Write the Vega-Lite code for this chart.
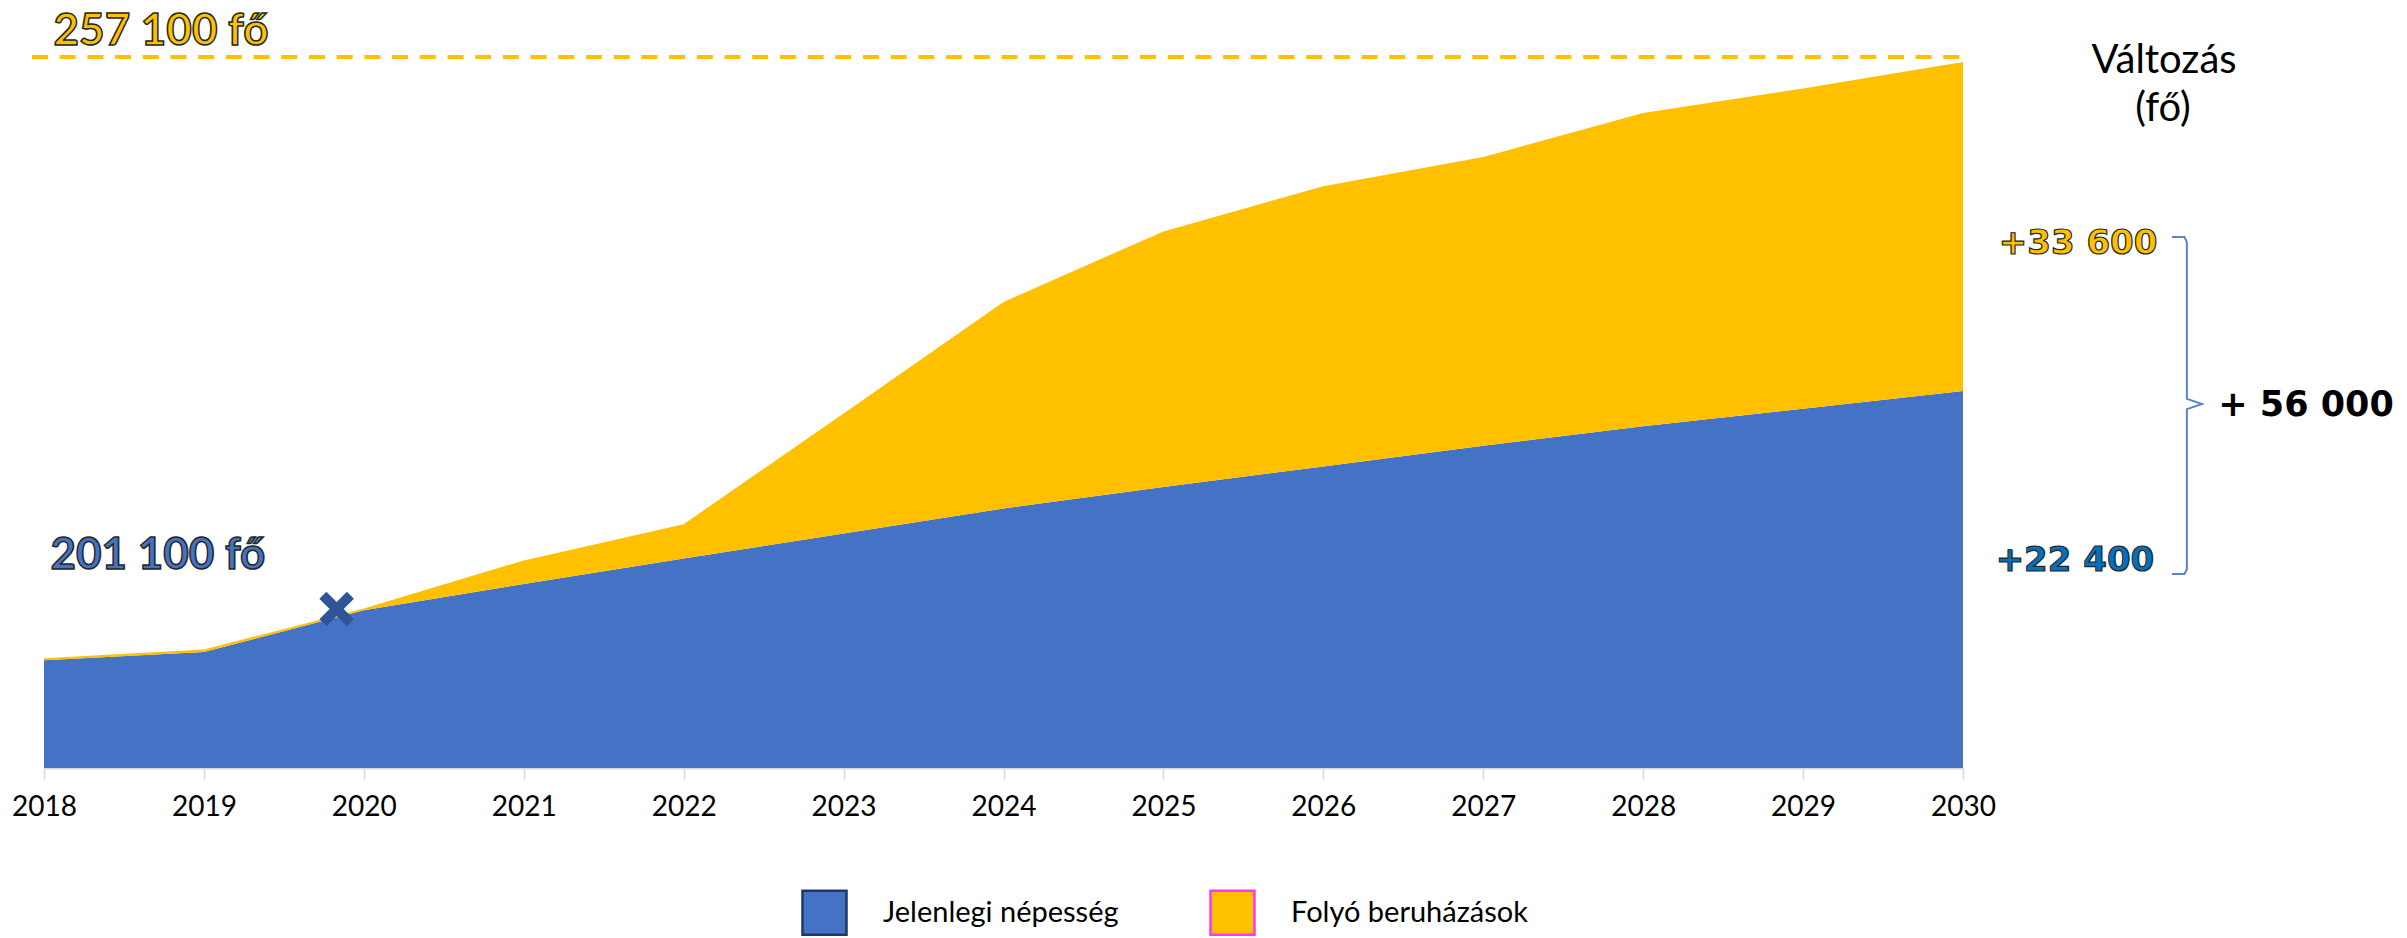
{
  "$schema": "https://vega.github.io/schema/vega-lite/v6.json",
  "width": 1919,
  "height": 754,
  "autosize": {"type": "none"},
  "padding": {"left": 44, "top": 14, "right": 444, "bottom": 170},
  "background": "white",
  "config": {
    "view": {"stroke": null},
    "font": "Lato",
    "axisX": {
      "grid": false, "title": null,
      "domainColor": "#D9D9D9", "domainWidth": 2,
      "tickColor": "#D9D9D9", "tickSize": 11, "tickWidth": 1.5,
      "labelFont": "Lato", "labelFontSize": 28, "labelColor": "#000000",
      "labelPadding": 14, "labelFlush": false
    }
  },
  "datasets": {
    "pop": [
      {"year": 2018, "series": "Jelenlegi népesség", "value": 196000},
      {"year": 2019, "series": "Jelenlegi népesség", "value": 196850},
      {"year": 2020, "series": "Jelenlegi népesség", "value": 201100},
      {"year": 2021, "series": "Jelenlegi népesség", "value": 203800},
      {"year": 2022, "series": "Jelenlegi népesség", "value": 206400},
      {"year": 2023, "series": "Jelenlegi népesség", "value": 208950},
      {"year": 2024, "series": "Jelenlegi népesség", "value": 211500},
      {"year": 2025, "series": "Jelenlegi népesség", "value": 213700},
      {"year": 2026, "series": "Jelenlegi népesség", "value": 215800},
      {"year": 2027, "series": "Jelenlegi népesség", "value": 217900},
      {"year": 2028, "series": "Jelenlegi népesség", "value": 219900},
      {"year": 2029, "series": "Jelenlegi népesség", "value": 221700},
      {"year": 2030, "series": "Jelenlegi népesség", "value": 223500},
      {"year": 2018, "series": "Folyó beruházások", "value": 200},
      {"year": 2019, "series": "Folyó beruházások", "value": 250},
      {"year": 2020, "series": "Folyó beruházások", "value": 200},
      {"year": 2021, "series": "Folyó beruházások", "value": 2400},
      {"year": 2022, "series": "Folyó beruházások", "value": 3500},
      {"year": 2023, "series": "Folyó beruházások", "value": 12250},
      {"year": 2024, "series": "Folyó beruházások", "value": 21100},
      {"year": 2025, "series": "Folyó beruházások", "value": 26100},
      {"year": 2026, "series": "Folyó beruházások", "value": 28600},
      {"year": 2027, "series": "Folyó beruházások", "value": 29500},
      {"year": 2028, "series": "Folyó beruházások", "value": 32000},
      {"year": 2029, "series": "Folyó beruházások", "value": 32700},
      {"year": 2030, "series": "Folyó beruházások", "value": 33600}
    ],
    "brace": [
      {"i": 1, "x": 2031.307, "y": 239230},
      {"i": 2, "x": 2031.385, "y": 239230},
      {"i": 3, "x": 2031.4, "y": 238700},
      {"i": 4, "x": 2031.4, "y": 222700},
      {"i": 5, "x": 2031.495, "y": 222175},
      {"i": 6, "x": 2031.4, "y": 221650},
      {"i": 7, "x": 2031.4, "y": 205300},
      {"i": 8, "x": 2031.385, "y": 204813},
      {"i": 9, "x": 2031.307, "y": 204813}
    ]
  },
  "layer": [
    {
      "data": {"name": "pop"},
      "mark": {"type": "area", "clip": true, "interpolate": "linear", "opacity": 1},
      "encoding": {
        "x": {
          "field": "year", "type": "quantitative", "title": null,
          "scale": {"domain": [2018, 2030], "nice": false, "zero": false},
          "axis": {"values": [2018, 2019, 2020, 2021, 2022, 2023, 2024, 2025, 2026, 2027, 2028, 2029, 2030], "format": "d"}
        },
        "y": {
          "field": "value", "type": "quantitative", "stack": "zero",
          "scale": {"domain": [185000, 262000], "nice": false, "zero": false},
          "axis": null
        },
        "color": {
          "field": "series", "type": "nominal",
          "sort": ["Jelenlegi népesség", "Folyó beruházások"],
          "scale": {"domain": ["Jelenlegi népesség", "Folyó beruházások"], "range": ["#4472C4", "#FFC000"]},
          "legend": {
            "orient": "none", "legendX": 757, "legendY": 875,
            "direction": "horizontal", "title": null,
            "symbolType": "square", "symbolSize": 1936, "symbolStrokeWidth": 2.5, "symbolOpacity": 1,
            "labelFont": "Lato", "labelFontSize": 29, "labelColor": "#000000", "labelLimit": 600,
            "labelOffset": 35, "columnPadding": 86, "padding": 0,
            "encode": {"symbols": {"update": {"stroke": {"signal": "datum.value === 'Jelenlegi népesség' ? '#203864' : '#FF33FF'"}}}}
          }
        }
      }
    },
    {
      "data": {"values": [{"x": 2017.925, "x2": 2030.025, "y": 257600}]},
      "mark": {"type": "rule", "color": "#FFC000", "strokeWidth": 4, "strokeDash": [16, 11.7]},
      "encoding": {
        "x": {"field": "x", "type": "quantitative", "title": null, "scale": {"domain": [2018, 2030], "nice": false, "zero": false}, "axis": {"values": [2018, 2019, 2020, 2021, 2022, 2023, 2024, 2025, 2026, 2027, 2028, 2029, 2030], "format": "d"}},
        "x2": {"field": "x2"},
        "y": {"field": "y", "type": "quantitative", "scale": {"domain": [185000, 262000], "nice": false, "zero": false}, "axis": null}
      }
    },
    {
      "data": {"values": [{"x": 2019.83, "y": 201240}]},
      "mark": {"type": "point", "shape": "M-1,-1L1,1M1,-1L-1,1", "filled": false, "stroke": "#2F5597", "strokeWidth": 10, "size": 760, "strokeCap": "butt", "opacity": 1},
      "encoding": {
        "x": {"field": "x", "type": "quantitative", "title": null, "scale": {"domain": [2018, 2030], "nice": false, "zero": false}, "axis": {"values": [2018, 2019, 2020, 2021, 2022, 2023, 2024, 2025, 2026, 2027, 2028, 2029, 2030], "format": "d"}},
        "y": {"field": "y", "type": "quantitative", "scale": {"domain": [185000, 262000], "nice": false, "zero": false}, "axis": null}
      }
    },
    {
      "data": {"name": "brace"},
      "mark": {"type": "line", "color": "#5B83C9", "strokeWidth": 2, "interpolate": "linear"},
      "encoding": {
        "x": {"field": "x", "type": "quantitative", "title": null, "scale": {"domain": [2018, 2030], "nice": false, "zero": false}, "axis": {"values": [2018, 2019, 2020, 2021, 2022, 2023, 2024, 2025, 2026, 2027, 2028, 2029, 2030], "format": "d"}},
        "y": {"field": "y", "type": "quantitative", "scale": {"domain": [185000, 262000], "nice": false, "zero": false}, "axis": null},
        "order": {"field": "i", "type": "quantitative"}
      }
    },
    {
      "data": {"values": [{"x": 2018.06, "y": 260200, "t": "257 100 fő"}]},
      "mark": {"type": "text", "align": "left", "baseline": "middle", "font": "Lato", "fontWeight": "bold", "fontSize": 44, "fill": "#FFC000", "stroke": "#262626", "strokeWidth": 1.5},
      "encoding": {
        "x": {"field": "x", "type": "quantitative", "title": null, "scale": {"domain": [2018, 2030], "nice": false, "zero": false}, "axis": {"values": [2018, 2019, 2020, 2021, 2022, 2023, 2024, 2025, 2026, 2027, 2028, 2029, 2030], "format": "d"}},
        "y": {"field": "y", "type": "quantitative", "scale": {"domain": [185000, 262000], "nice": false, "zero": false}, "axis": null},
        "text": {"field": "t"}
      }
    },
    {
      "data": {"values": [{"x": 2018.04, "y": 206650, "t": "201 100 fő"}]},
      "mark": {"type": "text", "align": "left", "baseline": "middle", "font": "Lato", "fontWeight": "bold", "fontSize": 44, "fill": "#4472C4", "stroke": "#262626", "strokeWidth": 1.5},
      "encoding": {
        "x": {"field": "x", "type": "quantitative", "title": null, "scale": {"domain": [2018, 2030], "nice": false, "zero": false}, "axis": {"values": [2018, 2019, 2020, 2021, 2022, 2023, 2024, 2025, 2026, 2027, 2028, 2029, 2030], "format": "d"}},
        "y": {"field": "y", "type": "quantitative", "scale": {"domain": [185000, 262000], "nice": false, "zero": false}, "axis": null},
        "text": {"field": "t"}
      }
    },
    {
      "data": {"values": [{"x": 2031.257, "y": 257210, "t": "Változás"}, {"x": 2031.25, "y": 252300, "t": "(fő)"}]},
      "mark": {"type": "text", "align": "center", "baseline": "middle", "font": "Lato", "fontSize": 40, "fill": "#000000"},
      "encoding": {
        "x": {"field": "x", "type": "quantitative", "title": null, "scale": {"domain": [2018, 2030], "nice": false, "zero": false}, "axis": {"values": [2018, 2019, 2020, 2021, 2022, 2023, 2024, 2025, 2026, 2027, 2028, 2029, 2030], "format": "d"}},
        "y": {"field": "y", "type": "quantitative", "scale": {"domain": [185000, 262000], "nice": false, "zero": false}, "axis": null},
        "text": {"field": "t"}
      }
    },
    {
      "data": {"values": [{"x": 2030.72, "y": 238516, "t": "+33 600"}]},
      "mark": {"type": "text", "align": "center", "baseline": "middle", "font": "DejaVu Sans", "fontWeight": "bold", "fontSize": 34, "fill": "#FFC000", "stroke": "#262626", "strokeWidth": 1.2},
      "encoding": {
        "x": {"field": "x", "type": "quantitative", "title": null, "scale": {"domain": [2018, 2030], "nice": false, "zero": false}, "axis": {"values": [2018, 2019, 2020, 2021, 2022, 2023, 2024, 2025, 2026, 2027, 2028, 2029, 2030], "format": "d"}},
        "y": {"field": "y", "type": "quantitative", "scale": {"domain": [185000, 262000], "nice": false, "zero": false}, "axis": null},
        "text": {"field": "t"}
      }
    },
    {
      "data": {"values": [{"x": 2030.70, "y": 206140, "t": "+22 400"}]},
      "mark": {"type": "text", "align": "center", "baseline": "middle", "font": "DejaVu Sans", "fontWeight": "bold", "fontSize": 34, "fill": "#0070C0", "stroke": "#262626", "strokeWidth": 1.2},
      "encoding": {
        "x": {"field": "x", "type": "quantitative", "title": null, "scale": {"domain": [2018, 2030], "nice": false, "zero": false}, "axis": {"values": [2018, 2019, 2020, 2021, 2022, 2023, 2024, 2025, 2026, 2027, 2028, 2029, 2030], "format": "d"}},
        "y": {"field": "y", "type": "quantitative", "scale": {"domain": [185000, 262000], "nice": false, "zero": false}, "axis": null},
        "text": {"field": "t"}
      }
    },
    {
      "data": {"values": [{"x": 2032.145, "y": 222073, "t": "+ 56 000"}]},
      "mark": {"type": "text", "align": "center", "baseline": "middle", "font": "DejaVu Sans", "fontWeight": "bold", "fontSize": 35, "fill": "#000000"},
      "encoding": {
        "x": {"field": "x", "type": "quantitative", "title": null, "scale": {"domain": [2018, 2030], "nice": false, "zero": false}, "axis": {"values": [2018, 2019, 2020, 2021, 2022, 2023, 2024, 2025, 2026, 2027, 2028, 2029, 2030], "format": "d"}},
        "y": {"field": "y", "type": "quantitative", "scale": {"domain": [185000, 262000], "nice": false, "zero": false}, "axis": null},
        "text": {"field": "t"}
      }
    }
  ]
}
